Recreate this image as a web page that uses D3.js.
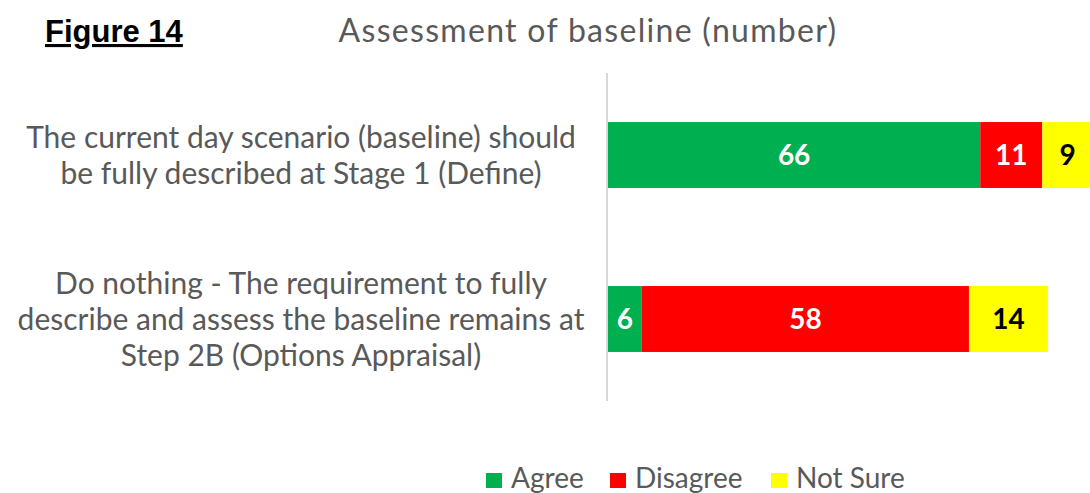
<!DOCTYPE html>
<html>
<head>
<meta charset="utf-8">
<script src="https://cdn.jsdelivr.net/npm/d3@7"></script>
<style>
  body { margin: 0; background: #fff; }
  text { font-family: Lato, "Open Sans", sans-serif; }
</style>
</head>
<body>
<div id="chart"></div>
<script>
const categories = [
    ["The current day scenario (baseline) should", "be fully described at Stage 1 (Define)"],
    ["Do nothing - The requirement to fully", "describe and assess the baseline remains at", "Step 2B (Options Appraisal)"]
];
const seriesNames = ["Agree", "Disagree", "Not Sure"];
const agree = [66, 6];
const disagree = [11, 58];
const notSure = [9, 14];
const seriesColors = ["#00B050", "#FF0000", "#FFFF00"];
const labelColors = ["#ffffff", "#ffffff", "#000000"];

const width = 1090, height = 493;

let svg = d3.select("#chart")
    .append("svg")
    .attr("width", width)
    .attr("height", height);

let data = categories.map(function(c, i) {
    return { key: i, Agree: agree[i], Disagree: disagree[i], "Not Sure": notSure[i] };
});

let stacked = d3.stack().keys(seriesNames)(data);

let x = d3.scaleLinear()
    .domain([0, 90])
    .range([608, 608 + 90 * 5.64]);

let y = d3.scaleBand()
    .domain(data.map(d => d.key))
    .range([73, 401])
    .paddingInner(0.598)
    .paddingOuter(0.299);

// title
svg.append("text")
    .attr("x", 45)
    .attr("y", 42)
    .style("font-family", "'Liberation Sans', Arial, sans-serif")
    .style("font-weight", "bold")
    .style("font-size", "31px")
    .style("text-decoration", "underline")
    .attr("fill", "#000")
    .text("Figure 14");

svg.append("text")
    .attr("x", 588)
    .attr("y", 42)
    .style("text-anchor", "middle")
    .style("font-size", "32px")
    .style("letter-spacing", "1.3px")
    .attr("fill", "#595959")
    .text("Assessment of baseline (number)");

// bars
let groups = svg.selectAll("g.series")
    .data(stacked)
    .enter()
    .append("g")
    .attr("class", "series")
    .attr("fill", (d, i) => seriesColors[i]);

groups.selectAll("rect")
    .data(d => d)
    .enter()
    .append("rect")
    .attr("x", d => x(d[0]))
    .attr("y", d => y(d.data.key))
    .attr("width", d => x(d[1]) - x(d[0]))
    .attr("height", y.bandwidth());

groups.each(function(s, i) {
    d3.select(this).selectAll("text")
        .data(s)
        .enter()
        .append("text")
        .attr("x", d => (x(d[0]) + x(d[1])) / 2)
        .attr("y", d => y(d.data.key) + y.bandwidth() / 2)
        .attr("dy", "0.35em")
        .style("text-anchor", "middle")
        .style("font-weight", "bold")
        .style("font-size", "28px")
        .attr("fill", labelColors[i])
        .text(d => d[1] - d[0]);
});

// axis line
svg.append("line")
    .attr("x1", x(0) - 1)
    .attr("x2", x(0) - 1)
    .attr("y1", 73)
    .attr("y2", 401)
    .attr("stroke", "#d9d9d9")
    .attr("stroke-width", 2);

// category labels
let lineH = 36;
let cats = svg.selectAll("text.cat")
    .data(categories)
    .enter()
    .append("text")
    .attr("class", "cat")
    .style("text-anchor", "middle")
    .style("font-size", "30px")
    .attr("fill", "#595959");

cats.each(function(lines, i) {
    let cy = y(i) + y.bandwidth() / 2;
    let top = cy - (lines.length - 1) * lineH / 2;
    d3.select(this).selectAll("tspan")
        .data(lines)
        .enter()
        .append("tspan")
        .attr("x", 301)
        .attr("y", (d, j) => top + j * lineH)
        .attr("dy", "0.35em")
        .text(d => d);
});

// legend
let legendX = [486, 610, 771];
let legend = svg.selectAll("g.legend")
    .data(seriesNames)
    .enter()
    .append("g")
    .attr("class", "legend")
    .attr("transform", (d, i) => `translate(${legendX[i]}, 473)`);

legend.append("rect")
    .attr("x", 0)
    .attr("y", 0)
    .attr("width", 16)
    .attr("height", 15)
    .attr("fill", (d, i) => seriesColors[i]);

legend.append("text")
    .attr("x", 25)
    .attr("y", 15)
    .style("font-size", "28px")
    .attr("fill", "#595959")
    .text(d => d);
</script>
</body>
</html>
